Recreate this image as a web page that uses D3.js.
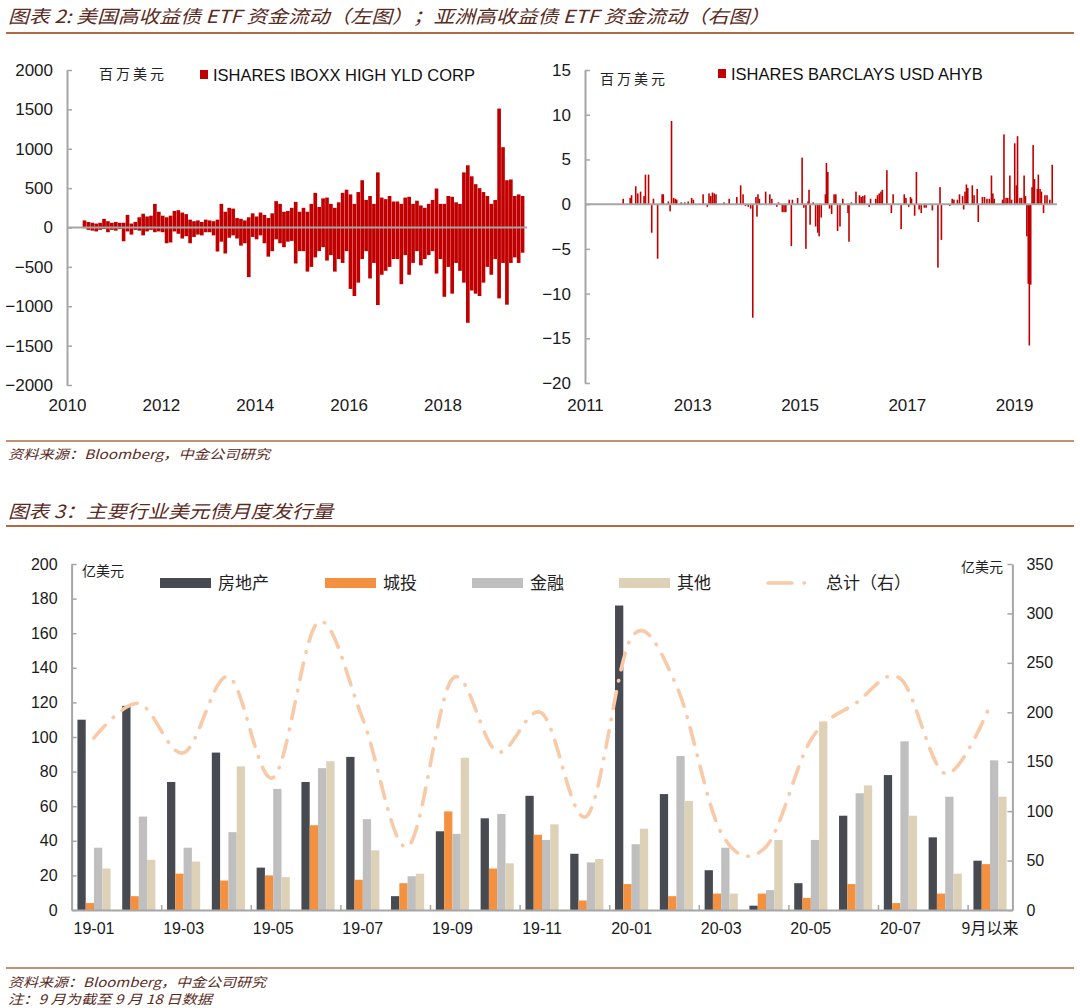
<!DOCTYPE html>
<html lang="zh">
<head>
<meta charset="UTF-8">
<title>高收益债 ETF 资金流动 / 美元债月度发行量</title>
<script src="https://d3js.org/d3.v7.min.js"></script>
<style>
  body { margin: 0; background: #fff; }
  svg { display: block; font-family: "Liberation Sans", Arial, sans-serif; }
  .cn { font-family: "Noto Sans CJK SC", sans-serif; }
  .caption { font-family: "Noto Sans CJK SC", sans-serif; font-style: italic; fill: #5a2b1d; }
  .axis path, .axis line { stroke: #a6a6a6; }
  .axis text { fill: #1a1a1a; }
</style>
</head>
<body>
<svg id="page" width="1080" height="1008"></svg>
<script>
// ---- 图表2 左: ISHARES IBOXX HIGH YLD CORP, monthly in/out flows (百万美元), from May 2010
const hyStart = 2010 + 4 / 12;
const hyInflow = [
  90, 70, 60, 50, 60, 110, 80, 60,                              // 2010 May-Dec
  70, 60, 60, 160, 50, 70, 130, 175, 140, 150, 300, 200,        // 2011
  150, 130, 150, 210, 220, 190, 170, 100, 80, 90, 70, 100,      // 2012
  90, 80, 100, 300, 200, 250, 240, 120, 110, 90, 130, 180,      // 2013
  140, 190, 160, 120, 180, 335, 300, 200, 210, 250, 325, 200,   // 2014
  250, 200, 300, 440, 260, 370, 380, 300, 250, 320, 440, 480,   // 2015
  420, 300, 450, 600, 350, 400, 300, 700, 380, 360, 400, 330,   // 2016
  330, 300, 380, 390, 300, 340, 280, 250, 300, 350, 495, 300,   // 2017
  300, 400, 390, 320, 300, 700, 790, 650, 550, 500, 450, 400,   // 2018
  300, 350, 1510, 1020, 600, 610, 400, 420, 400                 // 2019 Jan-Sep
];
const hyOutflow = [
  -10, -30, -40, -50, -30, -20, -60, -30,
  -40, -20, -175, -50, -90, -30, -40, -100, -50, -30, -60, -50,
  -60, -200, -190, -50, -80, -140, -110, -200, -120, -90, -100, -60,
  -60, -100, -305, -180, -330, -130, -100, -140, -230, -200, -630, -120,
  -150, -100, -200, -370, -300, -150, -200, -250, -180, -170, -457, -300,
  -300, -560, -500, -380, -300, -250, -420, -350, -560, -400, -450, -300,
  -780, -870, -700, -400, -300, -647, -450, -985, -600, -550, -500, -400,
  -400, -720, -350, -600, -450, -300, -480, -400, -350, -300, -585, -400,
  -880, -500, -840, -450, -550, -700, -1210, -800, -840, -870, -700, -500,
  -600, -400, -900, -450, -980, -450, -380, -450, -320
];
const hyYears = [2010, 2012, 2014, 2016, 2018];
const hyTicks = [2000, 1500, 1000, 500, 0, -500, -1000, -1500, -2000];

// ---- 图表2 右: ISHARES BARCLAYS USD AHYB, weekly flows (百万美元)
const ahybDate = [
  2011.712, 2011.842, 2011.868, 2011.946, 2011.984, 2012.036, 2012.101, 2012.127, 2012.185, 2012.244,
  2012.276, 2012.354, 2012.438, 2012.460, 2012.554, 2012.587, 2012.613, 2012.652, 2012.684, 2012.710,
  2012.794, 2012.859, 2012.924, 2012.988, 2013.021, 2013.202, 2013.280, 2013.312, 2013.345, 2013.377,
  2013.409, 2013.442, 2013.591, 2013.688, 2013.830, 2013.902, 2013.947, 2013.992, 2014.044, 2014.089,
  2014.128, 2014.187, 2014.206, 2014.225, 2014.251, 2014.368, 2014.446, 2014.484, 2014.575, 2014.608,
  2014.679, 2014.711, 2014.744, 2014.808, 2014.847, 2014.867, 2014.964, 2015.048, 2015.080, 2015.119,
  2015.158, 2015.177, 2015.197, 2015.255, 2015.300, 2015.339, 2015.365, 2015.404, 2015.482, 2015.501,
  2015.527, 2015.560, 2015.598, 2015.644, 2015.676, 2015.709, 2015.754, 2015.806, 2015.903, 2015.922,
  2015.968, 2016.052, 2016.117, 2016.149, 2016.181, 2016.214, 2016.298, 2016.324, 2016.421, 2016.453,
  2016.486, 2016.518, 2016.544, 2016.628, 2016.712, 2016.745, 2016.894, 2016.952, 2016.984, 2017.036,
  2017.069, 2017.088, 2017.146, 2017.179, 2017.230, 2017.269, 2017.328, 2017.360, 2017.477, 2017.580,
  2017.619, 2017.645, 2017.801, 2017.846, 2017.878, 2017.943, 2017.982, 2018.040, 2018.060, 2018.085,
  2018.111, 2018.137, 2018.221, 2018.254, 2018.312, 2018.332, 2018.409, 2018.448, 2018.494, 2018.539,
  2018.578, 2018.604, 2018.630, 2018.785, 2018.811, 2018.850, 2018.882, 2018.921, 2018.953, 2019.012,
  2019.044, 2019.064, 2019.109, 2019.141, 2019.187, 2019.212, 2019.238, 2019.264, 2019.284, 2019.310,
  2019.335, 2019.355, 2019.381, 2019.433, 2019.452, 2019.484, 2019.510, 2019.549, 2019.575, 2019.614,
  2019.666, 2019.711
];
const ahybFlow = [
  0.6, 0.7, 1.0, 2.0, 1.2, 1.4, 0.9, 3.3, 3.3, -3.2,
  0.6, -6.1, 1.1, 1.1, 0.3, -0.8, 9.3, 0.7, 0.6, 0.5,
  0.2, 0.2, 0.3, 0.7, 0.5, 1.1, -0.3, 1.2, 0.9, 1.3,
  1.2, 1.1, 0.2, 0.6, 0.8, 2.1, 1.1, -0.2, -0.3, -0.5,
  -12.7, 0.8, -1.4, 1.1, 0.6, 1.4, 1.1, 0.6, -0.3, 0.2,
  -0.9, -0.9, -0.9, 0.5, -4.7, 0.5, 0.7, 5.2, -0.4, -5.0,
  0.3, 1.6, -2.3, 0.2, -2.5, -3.2, -3.6, -1.5, 1.1, 4.6,
  3.6, -0.5, -1.1, 1.1, 1.1, -3.0, -2.5, 0.6, -1.0, -4.2,
  0.2, 1.4, 1.0, 0.8, 0.9, 1.0, -0.3, 0.6, 0.6, 1.0,
  1.2, 1.4, 1.6, 3.8, -1.0, 1.1, -2.8, 1.1, 0.7, -0.3,
  0.8, 0.6, -1.3, 3.6, -0.6, -1.0, -0.4, -0.4, -0.7, -7.1,
  1.9, -4.0, -0.2, 0.6, 0.5, 0.5, 1.1, 0.9, -0.6, 1.4,
  2.2, 1.8, 2.1, 1.0, 1.7, -2.0, 0.8, 0.8, 0.6, 0.6,
  3.2, 1.2, 0.6, 0.5, 7.8, 0.7, 0.7, 3.2, 0.5, 6.8,
  2.1, 7.6, 0.7, 0.7, 3.2, 0.9, -3.6, -8.9, -15.8, -9.0,
  1.9, 6.6, 2.8, 1.7, 3.3, 1.7, 1.4, -1.0, 1.0, 1.0,
  0.5, 4.4
];
const ahybYears = [2011, 2013, 2015, 2017, 2019];
const ahybTicks = [15, 10, 5, 0, -5, -10, -15, -20];

// ---- 图表3: 主要行业美元债月度发行量 (亿美元)
const months = ["19-01", "19-02", "19-03", "19-04", "19-05", "19-06", "19-07", "19-08", "19-09", "19-10",
  "19-11", "19-12", "20-01", "20-02", "20-03", "20-04", "20-05", "20-06", "20-07", "20-08", "9月以来"];
const seriesNames = ["房地产", "城投", "金融", "其他"];
const realEstate = [110, 118, 74, 91, 24.5, 74, 88.5, 8, 45.5, 53, 66, 32.5, 176, 67, 23, 2.5, 15.5, 54.5, 78, 42, 28.5];
const lgfv       = [4, 8, 21, 17, 20, 49, 17.5, 15.5, 57, 24, 43.5, 5.5, 15, 8, 9.5, 9.5, 7, 15, 4, 9.5, 26.5];
const financial  = [36, 54, 36, 45, 70, 82, 52.5, 19.5, 44, 55.5, 40.5, 27.5, 38, 89, 36, 11.5, 40.5, 67.5, 97.5, 65.5, 86.5];
const other      = [24, 29, 28, 83, 19, 86, 34.5, 21, 88, 27, 49.5, 29.5, 47, 63, 9.5, 40.5, 109, 72, 54.5, 21, 65.5];
const totalIssue = [174, 209, 159, 236, 134, 291, 193, 64, 234, 160, 199, 95, 276, 227, 78, 64, 172, 209, 234, 138, 207];
const monthLabels = ["19-01", "19-03", "19-05", "19-07", "19-09", "19-11", "20-01", "20-03", "20-05", "20-07", "9月以来"];
const leftTicks = [0, 20, 40, 60, 80, 100, 120, 140, 160, 180, 200];
const rightTicks = [0, 50, 100, 150, 200, 250, 300, 350];

const red = "#c00000";
const rule = "#b26a44";
const seriesColors = ["#474b51", "#f39141", "#bfbfbf", "#ddd1b8"];
const totalColor = "#f8caa8";
const plain = d3.format("d");

const svg = d3.select("#page");

// ---------- captions and rules
function caption(text, y, len) {
  svg.append("text").attr("class", "caption")
    .attr("x", 8).attr("y", y)
    .attr("font-size", 18)
    .attr("textLength", len).attr("lengthAdjust", "spacingAndGlyphs")
    .text(text);
}
function note(text, y, len) {
  svg.append("text").attr("class", "caption")
    .attr("x", 8).attr("y", y)
    .attr("font-size", 13).attr("fill", "#3b2418")
    .attr("textLength", len).attr("lengthAdjust", "spacingAndGlyphs")
    .text(text);
}
function hr(y, w) {
  svg.append("line").attr("x1", 6).attr("x2", 1074).attr("y1", y).attr("y2", y)
    .attr("stroke", rule).attr("stroke-width", w);
}

caption("图表 2: 美国高收益债 ETF 资金流动（左图）；亚洲高收益债 ETF 资金流动（右图）", 23, 762);
hr(33, 2);
hr(441, 1.5);
note("资料来源：Bloomberg，中金公司研究", 459, 262);
caption("图表 3：主要行业美元债月度发行量", 518, 325);
hr(526, 2);
hr(968, 1.5);
note("资料来源：Bloomberg，中金公司研究", 987, 258);
note("注：9 月为截至 9 月 18 日数据", 1004, 204);

function styleAxis(g, size) {
  g.attr("class", "axis").attr("font-size", size).attr("font-family", null);
  g.select(".domain").attr("stroke-width", 2);
  g.selectAll(".tick line").attr("stroke-width", 1.5);
}

// ---------- 图表2 左
{
  const x = d3.scaleLinear().domain([2010, 2019.8]).range([67, 527]);
  const y = d3.scaleLinear().domain([-2000, 2000]).range([385, 70]);
  const g = svg.append("g");

  const bars = hyInflow.map((v, i) => ({ t: hyStart + i / 12, v }))
    .concat(hyOutflow.map((v, i) => ({ t: hyStart + i / 12, v })));

  g.selectAll("rect").data(bars).join("rect")
    .attr("x", d => x(d.t))
    .attr("width", d => x(d.t + 1 / 12) - x(d.t) - 0.25)
    .attr("y", d => y(Math.max(0, d.v)))
    .attr("height", d => Math.abs(y(d.v) - y(0)))
    .attr("fill", red);

  g.append("line")
    .attr("x1", x(2010)).attr("x2", x(2019.8))
    .attr("y1", y(0)).attr("y2", y(0))
    .attr("stroke", "#a6a6a6").attr("stroke-width", 2);

  g.append("g").attr("transform", `translate(${x(2010)},0)`)
    .call(d3.axisLeft(y).tickValues(hyTicks).tickFormat(plain).tickSize(-5).tickSizeOuter(0).tickPadding(14))
    .call(a => styleAxis(a, 17));

  g.append("g").attr("transform", `translate(0,${y(-2000)})`)
    .call(d3.axisBottom(x).tickValues(hyYears).tickFormat(plain).tickSize(0).tickPadding(14))
    .call(a => { styleAxis(a, 17); a.select(".domain").remove(); });

  g.append("text").attr("class", "cn").attr("x", 99).attr("y", 79)
    .attr("font-size", 14).attr("letter-spacing", 3).attr("fill", "#222").text("百万美元");
  g.append("rect").attr("x", 200).attr("y", 70).attr("width", 8).attr("height", 9).attr("fill", red);
  g.append("text").attr("x", 213).attr("y", 81).attr("font-size", 16.5).attr("fill", "#111")
    .text("ISHARES IBOXX HIGH YLD CORP");
}

// ---------- 图表2 右
{
  const x = d3.scaleLinear().domain([2011, 2019.8]).range([585, 1057]);
  const y = d3.scaleLinear().domain([-20, 15]).range([383, 70]);
  const g = svg.append("g");

  g.selectAll("rect").data(ahybFlow).join("rect")
    .attr("x", (d, i) => x(ahybDate[i]) - 0.8)
    .attr("width", 1.6)
    .attr("y", d => y(Math.max(0, d)))
    .attr("height", d => Math.abs(y(d) - y(0)))
    .attr("fill", red);

  g.append("line")
    .attr("x1", x(2011)).attr("x2", x(2019.8))
    .attr("y1", y(0)).attr("y2", y(0))
    .attr("stroke", "#a6a6a6").attr("stroke-width", 2);

  g.append("g").attr("transform", `translate(${x(2011)},0)`)
    .call(d3.axisLeft(y).tickValues(ahybTicks).tickFormat(plain).tickSize(-5).tickSizeOuter(0).tickPadding(14))
    .call(a => styleAxis(a, 17));

  g.append("g").attr("transform", `translate(0,${y(-20)})`)
    .call(d3.axisBottom(x).tickValues(ahybYears).tickFormat(plain).tickSize(0).tickPadding(16))
    .call(a => { styleAxis(a, 17); a.select(".domain").remove(); });

  g.append("text").attr("class", "cn").attr("x", 600).attr("y", 84)
    .attr("font-size", 14).attr("letter-spacing", 3).attr("fill", "#222").text("百万美元");
  g.append("rect").attr("x", 718).attr("y", 69).attr("width", 8).attr("height", 9).attr("fill", red);
  g.append("text").attr("x", 731).attr("y", 80).attr("font-size", 16.5).attr("fill", "#111")
    .text("ISHARES BARCLAYS USD AHYB");
}

// ---------- 图表3
{
  const left = 71.6, right = 1012.4;
  const x0 = d3.scaleBand().domain(months).range([left, right]).paddingInner(0.26).paddingOuter(0.13);
  const x1 = d3.scaleBand().domain(seriesNames).range([0, x0.bandwidth()]);
  const xIdx = d3.scaleLinear().domain([0, months.length]).range([left, right]);
  const yL = d3.scaleLinear().domain([0, 200]).range([910, 564]);
  const yR = d3.scaleLinear().domain([0, 350]).range([910, 564]);
  const series = [realEstate, lgfv, financial, other];
  const g = svg.append("g");

  const cells = months.flatMap((m, i) => series.map((s, k) => ({ m, k, v: s[i] })));
  g.selectAll("rect.bar").data(cells).join("rect").attr("class", "bar")
    .attr("x", d => x0(d.m) + x1(seriesNames[d.k]))
    .attr("width", x1.bandwidth())
    .attr("y", d => yL(d.v))
    .attr("height", d => yL(0) - yL(d.v))
    .attr("fill", d => seriesColors[d.k]);

  const dash = "17,11,0.5,11";
  g.append("path").datum(totalIssue)
    .attr("fill", "none").attr("stroke", totalColor).attr("stroke-width", 3.6)
    .attr("stroke-linecap", "round").attr("stroke-dasharray", dash)
    .attr("d", d3.line()
      .x((d, i) => x0(months[i]) + x0.bandwidth() / 2)
      .y(d => yR(d))
      .curve(d3.curveCardinal.tension(0)));

  g.append("g").attr("transform", `translate(${left},0)`)
    .call(d3.axisLeft(yL).tickValues(leftTicks).tickFormat(plain).tickSize(-5).tickSizeOuter(0).tickPadding(14))
    .call(a => styleAxis(a, 16));

  g.append("g").attr("transform", `translate(${right},0)`)
    .call(d3.axisRight(yR).tickValues(rightTicks).tickFormat(plain).tickSize(-5).tickSizeOuter(0).tickPadding(14))
    .call(a => styleAxis(a, 16));

  g.append("g").attr("transform", "translate(0,910)")
    .call(d3.axisBottom(xIdx).tickValues([2, 4, 6, 8, 10, 12, 14, 16, 18, 20]).tickFormat("").tickSize(-5).tickSizeOuter(0))
    .call(a => styleAxis(a, 16));

  g.append("g").attr("transform", "translate(0,910)")
    .call(d3.axisBottom(x0).tickValues(monthLabels).tickSize(0).tickPadding(13))
    .call(a => { styleAxis(a, 16); a.select(".domain").remove(); })
    .selectAll("text").attr("font-family", d => d === "9月以来" ? "Noto Sans CJK SC, sans-serif" : null);

  g.append("text").attr("class", "cn").attr("x", 82).attr("y", 576)
    .attr("font-size", 14).attr("fill", "#222").text("亿美元");
  g.append("text").attr("class", "cn").attr("x", 1003).attr("y", 572).attr("text-anchor", "end")
    .attr("font-size", 14).attr("fill", "#222").text("亿美元");

  // legend
  const legendX = [160, 325, 472, 619];
  const legend = g.append("g").attr("class", "cn");
  seriesNames.forEach((name, k) => {
    legend.append("rect").attr("x", legendX[k]).attr("y", 578).attr("width", 51).attr("height", 10)
      .attr("fill", seriesColors[k]);
    legend.append("text").attr("x", legendX[k] + 58).attr("y", 589)
      .attr("font-size", 17).attr("fill", "#222").text(name);
  });
  legend.append("line").attr("x1", 768).attr("x2", 812).attr("y1", 583).attr("y2", 583)
    .attr("stroke", totalColor).attr("stroke-width", 3.6)
    .attr("stroke-linecap", "round").attr("stroke-dasharray", "24,12,0.5,12");
  legend.append("text").attr("x", 826).attr("y", 589)
    .attr("font-size", 17).attr("fill", "#222").text("总计（右）");
}
</script>
</body>
</html>
